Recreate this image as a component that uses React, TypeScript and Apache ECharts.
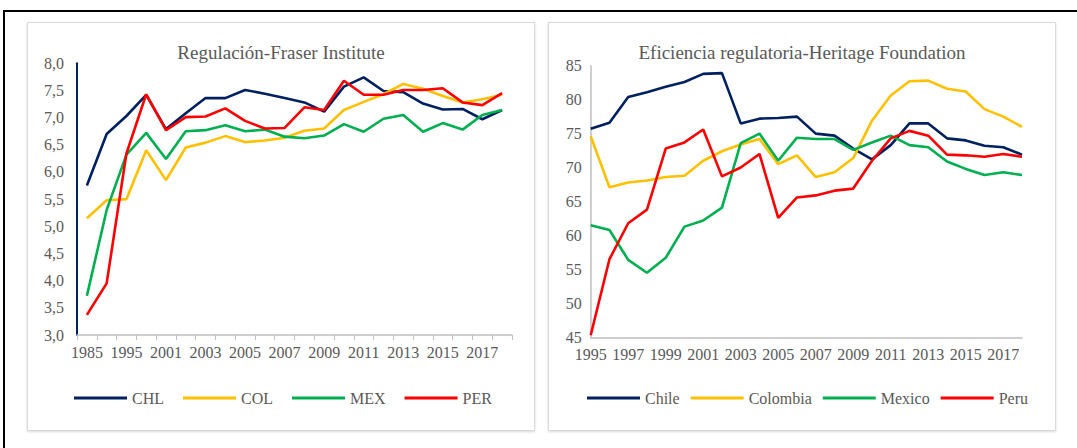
import React, { useEffect, useRef } from "react";
import * as echarts from "echarts";

const leftYears = ["1985", "1990", "1995", "2000", "2001", "2002", "2003", "2004", "2005", "2006", "2007", "2008", "2009", "2010", "2011", "2012", "2013", "2014", "2015", "2016", "2017", "2018"];
const chl = [5.75, 6.7, 7.03, 7.42, 6.79, 7.08, 7.36, 7.36, 7.51, 7.44, 7.36, 7.28, 7.11, 7.57, 7.74, 7.49, 7.47, 7.26, 7.15, 7.16, 6.97, 7.14];
const col = [5.15, 5.48, 5.5, 6.4, 5.85, 6.45, 6.54, 6.66, 6.55, 6.58, 6.63, 6.76, 6.8, 7.14, 7.29, 7.43, 7.62, 7.53, 7.4, 7.28, 7.34, 7.42];
const mex = [3.72, 5.3, 6.32, 6.72, 6.24, 6.75, 6.77, 6.86, 6.75, 6.78, 6.65, 6.62, 6.67, 6.88, 6.74, 6.98, 7.05, 6.74, 6.9, 6.78, 7.05, 7.14];
const per = [3.37, 3.95, 6.34, 7.43, 6.77, 7.01, 7.02, 7.17, 6.94, 6.8, 6.81, 7.19, 7.14, 7.68, 7.42, 7.42, 7.51, 7.51, 7.54, 7.28, 7.23, 7.45];

const rightYears = ["1995", "1996", "1997", "1998", "1999", "2000", "2001", "2002", "2003", "2004", "2005", "2006", "2007", "2008", "2009", "2010", "2011", "2012", "2013", "2014", "2015", "2016", "2017", "2018"];
const chile = [75.7, 76.6, 80.4, 81.1, 81.9, 82.6, 83.8, 83.9, 76.5, 77.2, 77.3, 77.5, 75.0, 74.7, 72.8, 71.2, 73.3, 76.5, 76.5, 74.3, 74.0, 73.2, 73.0, 71.9];
const colombia = [74.6, 67.1, 67.8, 68.1, 68.6, 68.8, 71.0, 72.4, 73.4, 74.2, 70.5, 71.8, 68.6, 69.3, 71.4, 76.9, 80.6, 82.7, 82.8, 81.6, 81.2, 78.6, 77.5, 76.0];
const mexico = [61.5, 60.8, 56.4, 54.5, 56.7, 61.3, 62.2, 64.1, 73.6, 75.0, 71.0, 74.4, 74.2, 74.2, 72.6, 73.7, 74.7, 73.3, 73.0, 70.9, 69.8, 68.9, 69.3, 68.9];
const peru = [45.3, 56.5, 61.8, 63.8, 72.8, 73.7, 75.6, 68.7, 70.0, 72.0, 62.6, 65.6, 65.9, 66.6, 66.9, 71.0, 74.3, 75.4, 74.7, 71.9, 71.8, 71.6, 72.0, 71.6];

const leftNames = ["CHL", "COL", "MEX", "PER"];
const rightNames = ["Chile", "Colombia", "Mexico", "Peru"];
const colors = ["#002060", "#FFC000", "#00B050", "#FF0000"];

const FONT = "Liberation Serif";
const TXT = "#595959";

export default function App() {
  const ref = useRef<HTMLDivElement>(null);
  useEffect(() => {
    if (!ref.current) return;
    const chart = echarts.init(ref.current, null, { renderer: "svg" });
    const leftData = [chl, col, mex, per];
    const rightData = [chile, colombia, mexico, peru];
    const series: any[] = [];
    leftNames.forEach((n, i) => {
      series.push({
        name: n, type: "line", xAxisIndex: 0, yAxisIndex: 0, data: leftData[i],
        showSymbol: false, symbol: "none", lineStyle: { width: 2.6, color: colors[i] }, itemStyle: { color: colors[i] },
      });
    });
    rightNames.forEach((n, i) => {
      series.push({
        name: n, type: "line", xAxisIndex: 1, yAxisIndex: 1, data: rightData[i],
        showSymbol: false, symbol: "none", lineStyle: { width: 2.6, color: colors[i] }, itemStyle: { color: colors[i] },
      });
    });
    const legendText = { fontFamily: FONT, fontSize: 16, color: TXT };
    chart.setOption({
      animation: false,
      backgroundColor: "#ffffff",
      graphic: [
        { type: "line", shape: { x1: 4, y1: 11, x2: 1077, y2: 11 }, style: { stroke: "#000", lineWidth: 2 } },
        { type: "line", shape: { x1: 4, y1: 10, x2: 4, y2: 448 }, style: { stroke: "#000", lineWidth: 2 } },
        { type: "rect", shape: { x: 27.5, y: 22.5, width: 507, height: 408 }, style: { fill: "#fff", stroke: "#d9d9d9", lineWidth: 1, shadowBlur: 2, shadowOffsetY: 1, shadowColor: "rgba(0,0,0,0.15)" }, z: -10 },
        { type: "rect", shape: { x: 548.5, y: 22.5, width: 507, height: 408 }, style: { fill: "#fff", stroke: "#d9d9d9", lineWidth: 1, shadowBlur: 2, shadowOffsetY: 1, shadowColor: "rgba(0,0,0,0.15)" }, z: -10 },
        { type: "text", x: 281, y: 52, style: { text: "Regulación-Fraser Institute", align: "center", verticalAlign: "middle", fontFamily: FONT, fontSize: 19, fill: TXT } },
        { type: "text", x: 802, y: 52, style: { text: "Eficiencia regulatoria-Heritage Foundation", align: "center", verticalAlign: "middle", fontFamily: FONT, fontSize: 19, fill: TXT } },
      ],
      legend: [
        { icon: "rect", itemWidth: 53, itemHeight: 3, data: leftNames, left: 69, top: 385, itemGap: 19, textStyle: legendText },
        { icon: "rect", itemWidth: 53, itemHeight: 3, data: rightNames, left: 582, top: 385, itemGap: 11, textStyle: legendText },
      ],
      grid: [
        { left: 77, top: 63.3, width: 435, height: 271.7 },
        { left: 590.7, top: 65.7, width: 431.3, height: 271.6 },
      ],
      xAxis: [
        {
          type: "category", gridIndex: 0, data: leftYears, boundaryGap: true,
          axisLine: { lineStyle: { color: "#bfbfbf", width: 1.5 } },
          axisTick: { show: true, interval: 0, length: 5, lineStyle: { color: "#bfbfbf", width: 1 } },
          axisLabel: { interval: 1, fontFamily: FONT, fontSize: 16, color: TXT, margin: 9 },
          splitLine: { show: false },
        },
        {
          type: "category", gridIndex: 1, data: rightYears, boundaryGap: false,
          axisLine: { lineStyle: { color: "#bfbfbf", width: 1.5 } },
          axisTick: { show: false },
          axisLabel: { interval: 1, fontFamily: FONT, fontSize: 16, color: TXT, margin: 9 },
          splitLine: { show: false },
        },
      ],
      yAxis: [
        {
          type: "value", gridIndex: 0, min: 3, max: 8, interval: 0.5,
          axisLine: { show: true, lineStyle: { color: "#002060", width: 2 } },
          axisTick: { show: false },
          splitLine: { show: false },
          axisLabel: { fontFamily: FONT, fontSize: 16, color: TXT, margin: 13, formatter: (v: number) => v.toFixed(1).replace(".", ",") },
        },
        {
          type: "value", gridIndex: 1, min: 45, max: 85, interval: 5,
          axisLine: { show: true, lineStyle: { color: "#bfbfbf", width: 1.5 } },
          axisTick: { show: false },
          splitLine: { show: false },
          axisLabel: { fontFamily: FONT, fontSize: 16, color: TXT, margin: 9 },
        },
      ],
      series,
    });
    return () => chart.dispose();
  }, []);
  return <div ref={ref} style={{ position: "fixed", left: 0, top: 0, width: 1077, height: 448 }} />;
}
